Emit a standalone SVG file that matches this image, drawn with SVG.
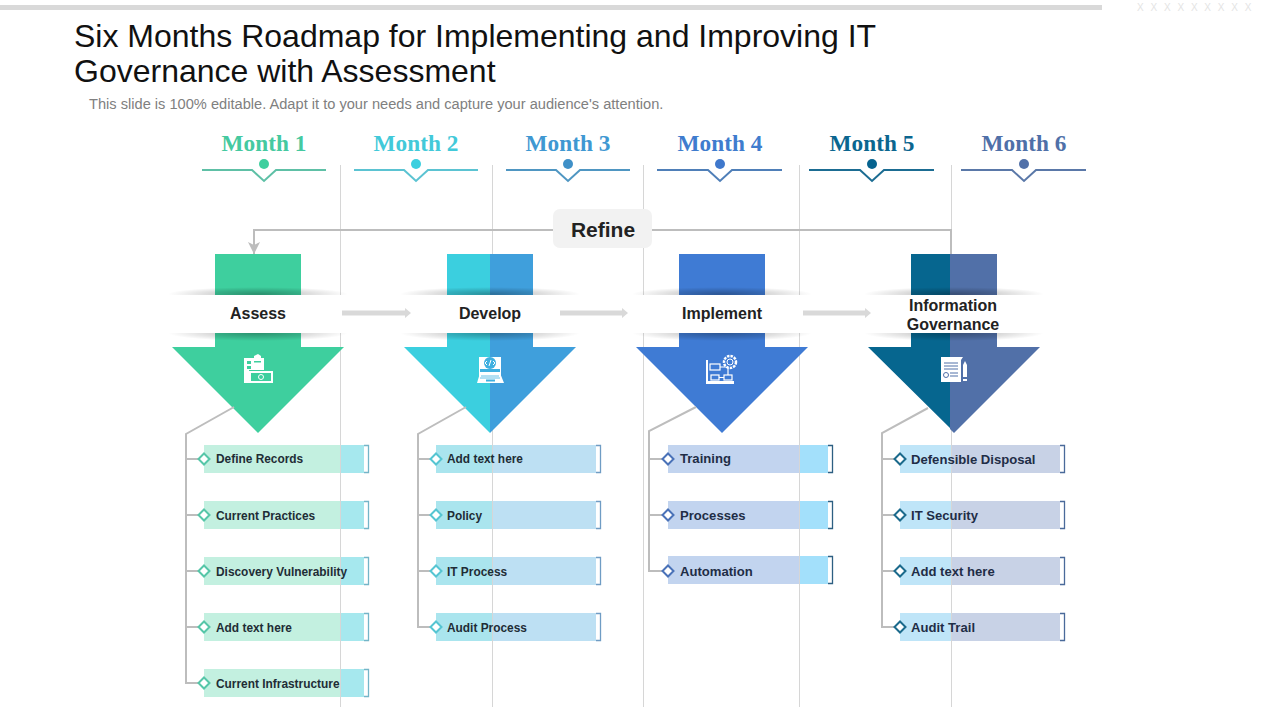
<svg xmlns="http://www.w3.org/2000/svg" width="1280" height="720" viewBox="0 0 1280 720">
<style>
text{font-family:"Liberation Sans",Arial,sans-serif}
.t{font-size:32px;fill:#111}
.m{font-family:"Liberation Serif","Times New Roman",serif;font-weight:700;font-size:23.300px;text-anchor:middle}
.h{font-weight:700;font-size:16px;fill:#222;text-anchor:middle}
.i{font-weight:700;font-size:11.900px;fill:#1f2d36}
.j{font-weight:700;font-size:13.100px;fill:#1f2d46}
.g{stroke:#d6d6d6;stroke-width:1;fill:none}
.c{stroke:#bdbdbd;stroke-width:2;fill:none}
.fl{fill:#d9d9d9}
.band{fill:#fff}
.ic{fill:#fff;stroke:none}
</style>
<defs>
<radialGradient id="sh"><stop offset="0" stop-color="#000" stop-opacity=".3"/><stop offset=".55" stop-color="#000" stop-opacity=".14"/><stop offset="1" stop-color="#000" stop-opacity="0"/></radialGradient>
<marker id="ah" markerWidth="14" markerHeight="12" refX="12" refY="6" orient="auto" markerUnits="userSpaceOnUse"><path d="M0 0L12 6L0 12L3 6Z" fill="#bdbdbd"/></marker>
</defs>
<rect width="1280" height="720" fill="#fff"/>
<rect x="0" y="5" width="1102" height="5" fill="#d9d9d9"/>
<text x="1137" y="11" font-size="10" fill="#e4e4e4" letter-spacing="6.800">XXXXXXXXX</text>

<g id="title">
<text class="t" x="74" y="47">Six Months Roadmap for Implementing and Improving IT</text>
<text class="t" x="74" y="82">Governance with Assessment</text>
<text x="89" y="109" font-size="14.640" fill="#808080">This slide is 100% editable. Adapt it to your needs and capture your audience's attention.</text>
</g>

<g id="months">
<g id="month1"><text class="m" x="264" y="151" fill="#45c9a0">Month 1</text><circle cx="264" cy="164" r="5" fill="#3ecf9e"/><path d="M202 170H252L264 181L276 170H326" fill="none" stroke="#5ec0a6" stroke-width="2"/></g>
<g id="month2"><text class="m" x="416" y="151" fill="#42c9d9">Month 2</text><circle cx="416" cy="164" r="5" fill="#3bcfdf"/><path d="M354 170H404L416 181L428 170H478" fill="none" stroke="#5bc3d2" stroke-width="2"/></g>
<g id="month3"><text class="m" x="568" y="151" fill="#3f98d2">Month 3</text><circle cx="568" cy="164" r="5" fill="#3f90c8"/><path d="M506 170H556L568 181L580 170H630" fill="none" stroke="#4f96c2" stroke-width="2"/></g>
<g id="month4"><text class="m" x="720" y="151" fill="#3f7cce">Month 4</text><circle cx="720" cy="164" r="5" fill="#3f78cc"/><path d="M657 170H708L720 181L732 170H782" fill="none" stroke="#4f7fb8" stroke-width="2"/></g>
<g id="month5"><text class="m" x="872" y="151" fill="#0b668f">Month 5</text><circle cx="872" cy="164" r="5" fill="#06638f"/><path d="M809 170H860L872 181L884 170H934" fill="none" stroke="#1b6c92" stroke-width="2"/></g>
<g id="month6"><text class="m" x="1024" y="151" fill="#4f70a8">Month 6</text><circle cx="1024" cy="164" r="5" fill="#5170a8"/><path d="M961 170H1012L1024 181L1036 170H1086" fill="none" stroke="#5a78a8" stroke-width="2"/></g>
</g>

<g id="bars">
<g id="bars1">
<rect x="204" y="445" width="136" height="28" fill="#c3f0e0"/><rect x="340" y="445" width="24" height="28" fill="#a6e8ee"/>
<rect x="204" y="501" width="136" height="28" fill="#c3f0e0"/><rect x="340" y="501" width="24" height="28" fill="#a6e8ee"/>
<rect x="204" y="557" width="136" height="28" fill="#c3f0e0"/><rect x="340" y="557" width="24" height="28" fill="#a6e8ee"/>
<rect x="204" y="613" width="136" height="28" fill="#c3f0e0"/><rect x="340" y="613" width="24" height="28" fill="#a6e8ee"/>
<rect x="204" y="669" width="136" height="28" fill="#c3f0e0"/><rect x="340" y="669" width="24" height="28" fill="#a6e8ee"/>
<path d="M364 445.500H368.500V472.500H364M364 501.500H368.500V528.500H364M364 557.500H368.500V584.500H364M364 613.500H368.500V640.500H364M364 669.500H368.500V696.500H364" fill="none" stroke="#74b5c8" stroke-width="1.300"/>
</g>
<g id="bars2">
<rect x="436" y="445" width="56" height="28" fill="#aae5ee"/><rect x="492" y="445" width="104" height="28" fill="#bde0f3"/>
<rect x="436" y="501" width="56" height="28" fill="#aae5ee"/><rect x="492" y="501" width="104" height="28" fill="#bde0f3"/>
<rect x="436" y="557" width="56" height="28" fill="#aae5ee"/><rect x="492" y="557" width="104" height="28" fill="#bde0f3"/>
<rect x="436" y="613" width="56" height="28" fill="#aae5ee"/><rect x="492" y="613" width="104" height="28" fill="#bde0f3"/>
<path d="M596 445.500H600.500V472.500H596M596 501.500H600.500V528.500H596M596 557.500H600.500V584.500H596M596 613.500H600.500V640.500H596" fill="none" stroke="#6f9cc4" stroke-width="1.300"/>
</g>
<g id="bars3">
<rect x="668" y="445" width="131" height="28" fill="#c2d4ef"/><rect x="799" y="445" width="29" height="28" fill="#a3e0fb"/>
<rect x="668" y="501" width="131" height="28" fill="#c2d4ef"/><rect x="799" y="501" width="29" height="28" fill="#a3e0fb"/>
<rect x="668" y="556" width="131" height="28" fill="#c2d4ef"/><rect x="799" y="556" width="29" height="28" fill="#a3e0fb"/>
<path d="M828 445.500H832.500V472.500H828M828 501.500H832.500V528.500H828M828 556.500H832.500V583.500H828" fill="none" stroke="#2d5f82" stroke-width="1.300"/>
</g>
<g id="bars4">
<rect x="900" y="445" width="51" height="28" fill="#bfe5f8"/><rect x="951" y="445" width="109" height="28" fill="#c8d2e6"/>
<rect x="900" y="501" width="51" height="28" fill="#bfe5f8"/><rect x="951" y="501" width="109" height="28" fill="#c8d2e6"/>
<rect x="900" y="557" width="51" height="28" fill="#bfe5f8"/><rect x="951" y="557" width="109" height="28" fill="#c8d2e6"/>
<rect x="900" y="613" width="51" height="28" fill="#bfe5f8"/><rect x="951" y="613" width="109" height="28" fill="#c8d2e6"/>
<path d="M1060 445.500H1064.500V472.500H1060M1060 501.500H1064.500V528.500H1060M1060 557.500H1064.500V584.500H1060M1060 613.500H1064.500V640.500H1060" fill="none" stroke="#4a6a9a" stroke-width="1.300"/>
</g>
</g>

<g id="gridlines">
<path class="g" d="M340.500 165V707M492.500 165V707M643.500 165V707M799.500 165V707M951.500 165V707"/>
</g>

<g id="arrows">
<g id="arrow1">
<path d="M215 254H301V347H344L258 433L172 347H215Z" fill="#3ecf9e"/>
</g>
<g id="arrow2">
<path d="M447 254H490V433L404 347H447Z" fill="#3bcfdf"/>
<path d="M490 254H533V347H576L490 433Z" fill="#3f9fdc"/>
</g>
<g id="arrow3">
<path d="M679 254H765V347H808L722 433L636 347H679Z" fill="#3f7bd4"/>
</g>
<g id="arrow4">
<path d="M911 254H951V429L868 347H911Z" fill="#06668f"/>
<path d="M950 254H997V347H1040L954 433L950 429Z" fill="#5170a8"/>
</g>
</g>

<g id="bands">
<g id="node-assess">
<ellipse cx="258" cy="294" rx="90" ry="7" fill="url(#sh)"/><ellipse cx="258" cy="333" rx="90" ry="8" fill="url(#sh)"/>
<rect class="band" x="168" y="295" width="180" height="38"/>
<text class="h" x="258" y="319">Assess</text>
</g>
<g id="node-develop">
<ellipse cx="490" cy="294" rx="90" ry="7" fill="url(#sh)"/><ellipse cx="490" cy="333" rx="90" ry="8" fill="url(#sh)"/>
<rect class="band" x="400" y="295" width="180" height="38"/>
<text class="h" x="490" y="319">Develop</text>
</g>
<g id="node-implement">
<ellipse cx="722" cy="294" rx="90" ry="7" fill="url(#sh)"/><ellipse cx="722" cy="333" rx="90" ry="8" fill="url(#sh)"/>
<rect class="band" x="632" y="295" width="180" height="38"/>
<text class="h" x="722" y="319">Implement</text>
</g>
<g id="node-governance">
<ellipse cx="954" cy="294" rx="90" ry="7" fill="url(#sh)"/><ellipse cx="954" cy="333" rx="90" ry="8" fill="url(#sh)"/>
<rect class="band" x="864" y="295" width="180" height="38"/>
<text class="h" x="953" y="311">Information</text>
<text class="h" x="953" y="330">Governance</text>
</g>
</g>

<g id="connectors">
<path class="c" d="M951 254V230H254V254" marker-end="url(#ah)"/>
<path class="fl" d="M342 310.500H405V308L411 313L405 318V315.500H342Z"/>
<path class="fl" d="M560 310.500H622V308L628 313L622 318V315.500H560Z"/>
<path class="fl" d="M803 310.500H865V308L871 313L865 318V315.500H803Z"/>
<path class="c" d="M234 407L186 434V683H204M186 459H204M186 515H204M186 571H204M186 627H204"/>
<path class="c" d="M466 407L418 434V627H436M418 459H436M418 515H436M418 571H436"/>
<path class="c" d="M696 407L649 431V571H668M649 459H668M649 515H668"/>
<path class="c" d="M928 408L882 433V627H900M882 459H900M882 515H900M882 571H900"/>
</g>

<g id="node-refine">
<rect x="553" y="209" width="99" height="39" rx="7" fill="#f2f2f2"/>
<text x="603" y="237" font-size="21" font-weight="700" fill="#222" text-anchor="middle">Refine</text>
</g>

<g id="icons">
<g id="icon1">
<path class="ic" d="M244 358H254V356L258 354L261 356V358H264V370H249V383H244Z"/>
<rect x="247" y="361" width="4" height="3" fill="#3ecf9e"/><rect x="247" y="366" width="4" height="3" fill="#3ecf9e"/>
<rect x="254" y="361" width="7" height="1.500" fill="#3ecf9e"/>
<rect x="249" y="371" width="24" height="12" fill="#fff"/><rect x="251" y="373" width="20" height="8" fill="#3ecf9e"/>
<circle cx="261" cy="377" r="2.500" fill="none" stroke="#fff"/>
</g>
<g id="icon2">
<rect x="479" y="357" width="22" height="20" fill="#fff"/>
<circle cx="490" cy="363" r="6" fill="#3fb0e0"/>
<path d="M487 361L485 363L487 365M493 361L495 363L493 365M491 360L489 366" fill="none" stroke="#fff"/>
<path d="M480 372H500V369H480Z" fill="#3fb0e0"/>
<path class="ic" d="M480 373H500L504 383H477Z"/>
<path d="M481 376H499M480 378H500" stroke="#3fb0e0" stroke-width=".8"/>
<rect x="486" y="379.500" width="9" height="2" fill="#3fb0e0"/>
</g>
<g id="icon3">
<rect x="706" y="360" width="28" height="24" fill="#fff"/>
<rect x="708" y="360" width="26" height="21" fill="#3f7bd4"/>
<rect x="710" y="364" width="10" height="6" fill="none" stroke="#fff" stroke-width="1.200"/>
<rect x="711" y="375" width="8" height="5" fill="none" stroke="#fff" stroke-width="1.200"/>
<rect x="724" y="375" width="8" height="5" fill="none" stroke="#fff" stroke-width="1.200"/>
<path d="M720 367H728V375M719 377.500H724" fill="none" stroke="#fff" stroke-width="1.200"/>
<circle cx="730" cy="362" r="6" fill="#3f7bd4" stroke="#fff" stroke-width="2.500" stroke-dasharray="2.500 1"/>
<circle cx="730" cy="362" r="3" fill="none" stroke="#fff"/>
</g>
<g id="icon4">
<path class="ic" d="M941 357H963L961 360V382H941Z"/>
<path d="M944 363H958M944 366H958M944 369H958M950 373H958M950 376H958" stroke="#5170a8" stroke-width="1"/>
<circle cx="946" cy="375" r="2.500" fill="none" stroke="#5170a8"/>
<path class="ic" d="M963 365L965 361L967 365V377H963ZM963 379H967V381H963Z"/>
</g>
</g>

<g id="items" fill="#fff">
<g id="items1" stroke="#56c6a8" stroke-width="2">
<path d="M204 453.500L209.500 459L204 464.500L198.500 459Z"/><path d="M204 509.500L209.500 515L204 520.500L198.500 515Z"/><path d="M204 565.500L209.500 571L204 576.500L198.500 571Z"/><path d="M204 621.500L209.500 627L204 632.500L198.500 627Z"/><path d="M204 677.500L209.500 683L204 688.500L198.500 683Z"/>
</g>
<g id="items2" stroke="#55c5d2" stroke-width="2">
<path d="M436 453.500L441.500 459L436 464.500L430.500 459Z"/><path d="M436 509.500L441.500 515L436 520.500L430.500 515Z"/><path d="M436 565.500L441.500 571L436 576.500L430.500 571Z"/><path d="M436 621.500L441.500 627L436 632.500L430.500 627Z"/>
</g>
<g id="items3" stroke="#4a72b8" stroke-width="2">
<path d="M668 453.500L673.500 459L668 464.500L662.500 459Z"/><path d="M668 509.500L673.500 515L668 520.500L662.500 515Z"/><path d="M668 565.500L673.500 571L668 576.500L662.500 571Z"/>
</g>
<g id="items4" stroke="#1b6a8c" stroke-width="2">
<path d="M900 453.500L905.500 459L900 464.500L894.500 459Z"/><path d="M900 509.500L905.500 515L900 520.500L894.500 515Z"/><path d="M900 565.500L905.500 571L900 576.500L894.500 571Z"/><path d="M900 621.500L905.500 627L900 632.500L894.500 627Z"/>
</g>
<text class="i" x="216" y="463">Define Records</text>
<text class="i" x="216" y="520">Current Practices</text>
<text class="i" x="216" y="576">Discovery Vulnerability</text>
<text class="i" x="216" y="632">Add text here</text>
<text class="i" x="216" y="688">Current Infrastructure</text>
<text class="i" x="447" y="463">Add text here</text>
<text class="i" x="447" y="520">Policy</text>
<text class="i" x="447" y="576">IT Process</text>
<text class="i" x="447" y="632">Audit Process</text>
<text class="j" x="680" y="463">Training</text>
<text class="j" x="680" y="520">Processes</text>
<text class="j" x="680" y="576">Automation</text>
<text class="j" x="911" y="464">Defensible Disposal</text>
<text class="j" x="911" y="520">IT Security</text>
<text class="j" x="911" y="576">Add text here</text>
<text class="j" x="911" y="632">Audit Trail</text>
</g>
</svg>
